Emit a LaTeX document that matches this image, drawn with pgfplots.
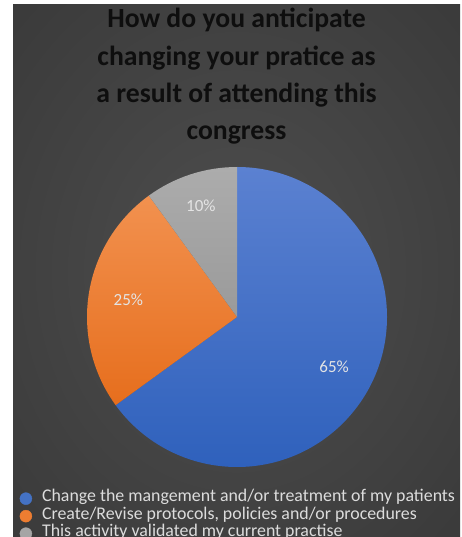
\documentclass[border=0pt]{standalone}
\usepackage{pgfplots}
\pgfplotsset{compat=1.18}
\usepackage{pgfplotstable}
\usepackage{fontspec}
\setmainfont{Carlito}

\definecolor{bgin}{HTML}{4E4E4E}
\definecolor{bgout}{HTML}{262626}
\definecolor{titletext}{HTML}{0E0E0E}
\definecolor{labeltext}{HTML}{E4E4E4}
\definecolor{legtext}{HTML}{DCDCDC}
\definecolor{bluetop}{HTML}{5B81D1}
\definecolor{bluebot}{HTML}{2F61BC}
\definecolor{orangetop}{HTML}{F2914F}
\definecolor{orangebot}{HTML}{E66E1D}
\definecolor{graytop}{HTML}{ACACAC}
\definecolor{graybot}{HTML}{9A9A9A}
\definecolor{lgblue}{HTML}{4472C4}
\definecolor{lgorange}{HTML}{ED7D31}
\definecolor{lggray}{HTML}{A5A5A5}

\pgfdeclareradialshading{bgglow}{\pgfpoint{0bp}{0bp}}{color(0bp)=(bgin); color(72bp)=(bgout)}

% share of answers, per cent
\pgfplotstableread{
share
65
25
10
}\piedata

\begin{document}
\begin{tikzpicture}[x=1pt,y=1pt]
\path[use as bounding box] (0,0) rectangle (462,537);
\clip (0,0) rectangle (462,537);
\fill[white] (0,0) rectangle (462,537);
\shade[shading=bgglow] (13,0) rectangle (460,532);

% title
\tikzset{ttl/.style={anchor=base, text=titletext, font=\bfseries\fontsize{27.7}{32}\selectfont}}
\node[ttl] at (236.5,509) {How do you anticipate};
\node[ttl] at (236.5,471.7) {changing your pratice as};
\node[ttl] at (236.5,434.3) {a result of attending this};
\node[ttl] at (236.5,397) {congress};

\pgfplotstablegetelem{0}{share}\of\piedata \let\va\pgfplotsretval
\pgfplotstablegetelem{1}{share}\of\piedata \let\vb\pgfplotsretval
\pgfplotstablegetelem{2}{share}\of\piedata \let\vc\pgfplotsretval
\pgfmathsetmacro\aA{90}
\pgfmathsetmacro\aB{\aA-3.6*\va}
\pgfmathsetmacro\aC{\aB-3.6*\vb}
\pgfmathsetmacro\aD{\aC-3.6*\vc}
\pgfmathsetmacro\mA{(\aA+\aB)/2}
\pgfmathsetmacro\mB{(\aB+\aC)/2}
\pgfmathsetmacro\mC{(\aC+\aD)/2}

\begin{axis}[
    at={(237pt,220pt)}, anchor=center,
    x=150pt, y=150pt,
    xmin=-1, xmax=1, ymin=-1, ymax=1,
    hide axis, clip=false,
    legend style={
        at={(-0.225,-0.0757)}, anchor=north west,
        draw=none, fill=none, inner sep=0pt,
        font=\fontsize{17.85}{17.5}\selectfont, text=legtext,
        row sep=0pt,
        nodes={inner xsep=0pt, inner ysep=0pt, text height=12pt, text depth=5.5pt},
        /tikz/every odd column/.append style={column sep=10pt},
    },
    legend cell align=left,
]
\shade[top color=bluetop, bottom color=bluebot]
    (axis cs:0,0) -- ++(\aA:150pt) arc[start angle=\aA, end angle=\aB, radius=150pt] -- cycle;
\shade[top color=orangetop, bottom color=orangebot]
    (axis cs:0,0) -- ++(\aB:150pt) arc[start angle=\aB, end angle=\aC, radius=150pt] -- cycle;
\shade[top color=graytop, bottom color=graybot]
    (axis cs:0,0) -- ++(\aC:150pt) arc[start angle=\aC, end angle=\aD, radius=150pt] -- cycle;

\path (axis cs:0,0) ++(\mA:109pt) node[text=labeltext, font=\fontsize{17}{19}\selectfont] {\va\%};
\path (axis cs:0,0) ++(\mB:110pt) node[text=labeltext, font=\fontsize{17}{19}\selectfont] {\vb\%};
\path (axis cs:0,0) ++(\mC:117pt) node[text=labeltext, font=\fontsize{17}{19}\selectfont] {\vc\%};

\addlegendimage{legend image code/.code={\fill[lgblue] (0pt,0pt) circle (6pt);}}
\addlegendentry{Change the mangement and/or treatment of my patients}
\addlegendimage{legend image code/.code={\fill[lgorange] (0pt,0pt) circle (6pt);}}
\addlegendentry{Create/Revise protocols, policies and/or procedures}
\addlegendimage{legend image code/.code={\fill[lggray] (0pt,0pt) circle (6pt);}}
\addlegendentry{This activity validated my current practise}
\end{axis}
\end{tikzpicture}
\end{document}
